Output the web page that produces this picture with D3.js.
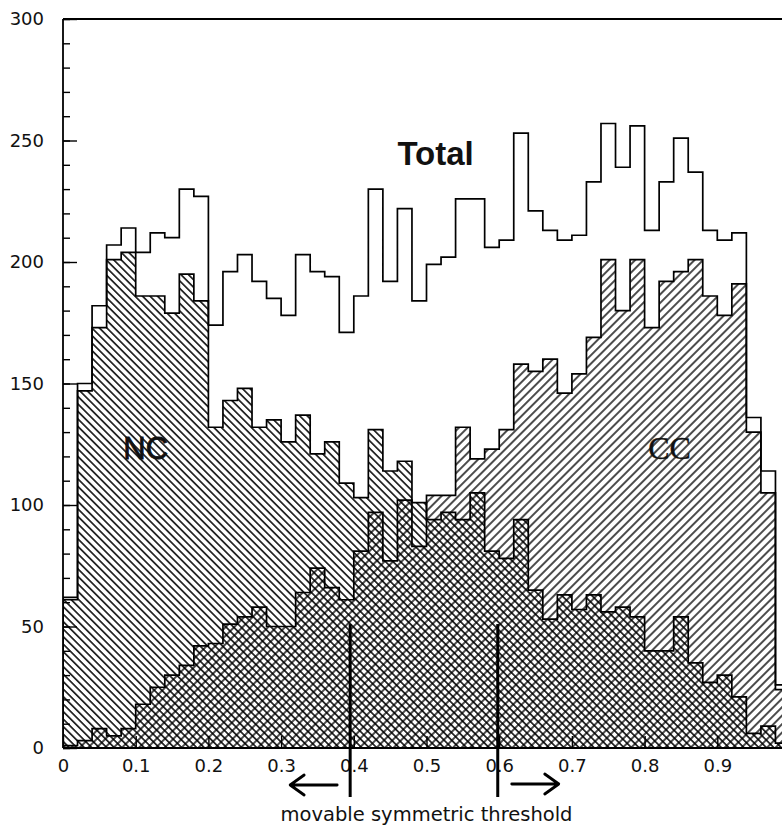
<!DOCTYPE html>
<html><head><meta charset="utf-8">
<script src="https://cdn.jsdelivr.net/npm/d3@7"></script>
<style>html,body{margin:0;padding:0;background:#fff;} svg{display:block;}</style>
</head><body>
<svg id="chart" width="782" height="825"></svg>
<script>
// ---- data (50 bins of width 0.02 on [0,1]) ----
const binWidth = 0.02;
const ncCounts = [61,147,173,201,204,186,186,179,195,184,
                  132,143,148,132,135,126,137,121,126,109,
                  103,131,114,118,101,94,97,94,105,81,
                  78,94,65,53,63,57,63,56,58,54,
                  40,40,54,35,27,30,21,6,9,2];
const ccCounts = [1,3,8,5,8,18,25,30,34,42,
                  43,51,54,58,50,50,64,74,66,61,
                  81,97,77,102,83,104,104,132,119,123,
                  131,158,155,160,146,154,169,201,180,201,
                  173,192,196,201,186,178,191,130,105,24];
const totalCounts = [62,150,182,207,214,204,212,210,230,227,
                     174,196,203,192,185,178,203,196,194,171,
                     186,230,192,222,184,199,202,226,226,206,
                     209,253,221,213,209,211,233,257,239,256,
                     213,233,251,237,213,209,212,136,114,26];
const xTickValues = [0,0.1,0.2,0.3,0.4,0.5,0.6,0.7,0.8,0.9];
const xTickLabels = ["0","0.1","0.2","0.3","0.4","0.5","0.6","0.7","0.8","0.9"];
const yTickValues = [0,50,100,150,200,250,300];
const yMinorTicks = d3.range(0, 301, 10);
const thresholds = [0.395, 0.598];
const thresholdTop = 51;
const labels = [
  {text:"Total", x:0.46, v:240},
  {text:"NC", x:0.083, v:119},
  {text:"CC", x:0.805, v:119}
];
const caption = "movable symmetric threshold";

// ---- setup ----
const W = 782, H = 825;
const svg = d3.select("#chart");
const x = d3.scaleLinear().domain([0, 1]).range([63, 790]);
const y = d3.scaleLinear().domain([0, 300]).range([748, 19]);

const defs = svg.append("defs");
function hatch(id, angle, gap, sw) {
  const p = defs.append("pattern").attr("id", id)
    .attr("patternUnits", "userSpaceOnUse")
    .attr("width", gap).attr("height", gap)
    .attr("patternTransform", `rotate(${angle})`);
  p.append("line").attr("x1", gap/2).attr("y1", -1).attr("x2", gap/2).attr("y2", gap+1)
    .attr("stroke", "#000").attr("stroke-width", sw);
}
hatch("ncHatch", -45, 5.3, 1.5);
hatch("ccHatch", 45, 6.0, 1.4);

defs.append("clipPath").attr("id", "plotClip")
  .append("rect").attr("x", x(0)).attr("y", y(300)).attr("width", W - x(0)).attr("height", y(0) - y(300));

function toPts(counts) {
  const pts = counts.map((c, i) => ({x0: i * binWidth, v: c}));
  pts.push({x0: 1, v: counts[counts.length - 1]});
  return pts;
}
function toOutline(counts) {
  return [{x0: 0, v: 0}].concat(toPts(counts)).concat([{x0: 1, v: 0}]);
}

const area = d3.area().x(d => x(d.x0)).y0(y(0)).y1(d => y(d.v)).curve(d3.curveStepAfter);
const line = d3.line().x(d => x(d.x0)).y(d => y(d.v)).curve(d3.curveStepAfter);

const plot = svg.append("g").attr("clip-path", "url(#plotClip)");
plot.append("path").attr("d", area(toPts(ncCounts))).attr("fill", "url(#ncHatch)");
plot.append("path").attr("d", area(toPts(ccCounts))).attr("fill", "url(#ccHatch)");
[ncCounts, ccCounts, totalCounts].forEach(c => {
  plot.append("path").attr("d", line(toOutline(c)))
    .attr("fill", "none").attr("stroke", "#000").attr("stroke-width", 1.7);
});

// ---- frame ----
const frame = svg.append("g").attr("stroke", "#000").attr("stroke-width", 1.8);
frame.append("line").attr("x1", x(0)).attr("x2", W).attr("y1", y(300)).attr("y2", y(300));
frame.append("line").attr("x1", x(0)).attr("x2", W).attr("y1", y(0)).attr("y2", y(0));
frame.append("line").attr("x1", x(0)).attr("x2", x(0)).attr("y1", y(300)).attr("y2", y(0));

// ---- axes ----
const font = "'DejaVu Sans', sans-serif";
const yMinor = svg.append("g").attr("transform", `translate(${x(0)},0)`)
  .call(d3.axisLeft(y).tickValues(yMinorTicks).tickSize(-7).tickFormat(""));
yMinor.select(".domain").remove();
yMinor.selectAll("line").attr("stroke", "#000").attr("stroke-width", 1.4);

const yMajor = svg.append("g").attr("transform", `translate(${x(0)},0)`)
  .call(d3.axisLeft(y).tickValues(yTickValues).tickSize(-14).tickPadding(19));
yMajor.select(".domain").remove();
yMajor.selectAll("line").attr("stroke", "#000").attr("stroke-width", 1.4);
yMajor.selectAll("text").attr("font-family", font).attr("font-size", 18).attr("fill", "#111");

const xAxis = svg.append("g").attr("transform", `translate(0,${y(0)})`)
  .call(d3.axisBottom(x).tickValues(xTickValues).tickSize(-12).tickPadding(11)
        .tickFormat((d, i) => xTickLabels[i]));
xAxis.select(".domain").remove();
xAxis.selectAll("line").attr("stroke", "#000").attr("stroke-width", 1.4);
xAxis.selectAll("text").attr("font-family", font).attr("font-size", 18).attr("fill", "#111");

// ---- labels ----
svg.append("text").text(labels[0].text).attr("x", x(labels[0].x)).attr("y", y(labels[0].v))
  .attr("font-family", "'Liberation Sans', Arial, sans-serif").attr("font-weight", "bold")
  .attr("font-size", 33).attr("fill", "#111");
svg.append("text").text(labels[1].text).attr("x", x(labels[1].x)).attr("y", y(labels[1].v))
  .attr("font-family", "'Liberation Sans', Arial, sans-serif")
  .attr("font-size", 31).attr("fill", "#111").attr("stroke", "#111").attr("stroke-width", 0.8);
svg.append("text").text(labels[2].text).attr("x", x(labels[2].x)).attr("y", y(labels[2].v))
  .attr("font-family", "'Liberation Serif', serif")
  .attr("font-size", 32).attr("fill", "#111").attr("stroke", "#111").attr("stroke-width", 0.4);

// ---- thresholds and arrows ----
const th = svg.append("g").attr("stroke", "#000");
thresholds.forEach(t => {
  th.append("line").attr("x1", x(t)).attr("x2", x(t)).attr("y1", y(thresholdTop)).attr("y2", 797)
    .attr("stroke-width", 3);
});
const ay = 785;
const lx0 = x(thresholds[0]) - 13, lx1 = x(thresholds[0]) - 60;
th.append("path").attr("d", `M${lx0},${ay} L${lx1},${ay} M${lx1+14},${ay-10} L${lx1},${ay} L${lx1+14},${ay+10}`)
  .attr("fill", "none").attr("stroke-width", 2.8).attr("stroke-linecap", "round").attr("stroke-linejoin", "round");
const rx0 = x(thresholds[1]) + 14, rx1 = x(thresholds[1]) + 61;
th.append("path").attr("d", `M${rx0},${ay-1} L${rx1},${ay-1} M${rx1-14},${ay-11} L${rx1},${ay-1} L${rx1-14},${ay+9}`)
  .attr("fill", "none").attr("stroke-width", 2.8).attr("stroke-linecap", "round").attr("stroke-linejoin", "round");

svg.append("text").text(caption).attr("x", x(0.5)).attr("y", 821)
  .attr("text-anchor", "middle").attr("font-family", font).attr("font-size", 19.5).attr("fill", "#111");
</script>
</body></html>
